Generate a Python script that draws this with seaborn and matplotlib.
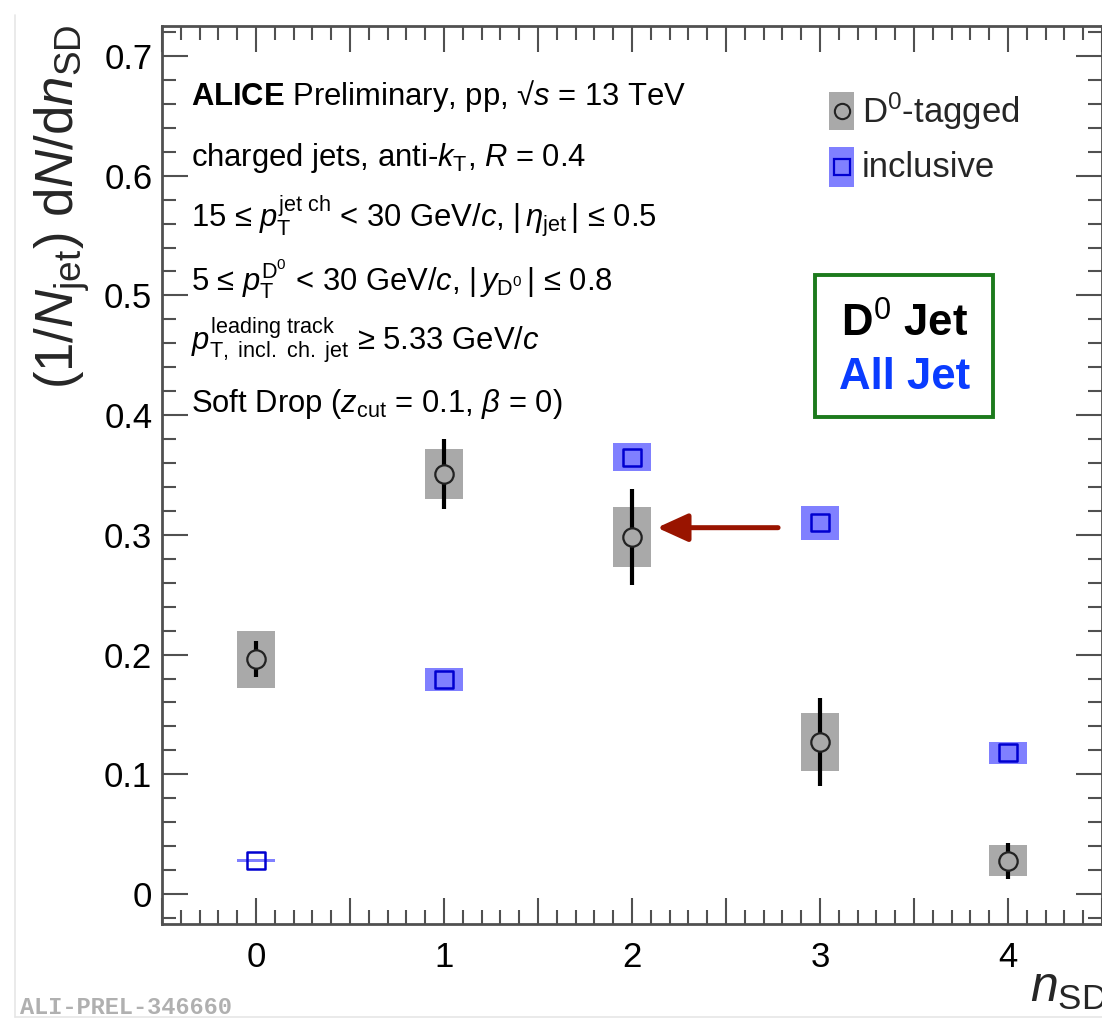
import numpy as np
import pandas as pd
import matplotlib
matplotlib.use("Agg")
import matplotlib.pyplot as plt
import seaborn as sns
from matplotlib.ticker import MultipleLocator, FuncFormatter
from matplotlib.patches import Rectangle
from matplotlib.lines import Line2D

# ---- data -------------------------------------------------------------
n_sd = [0, 1, 2, 3, 4]

d0_val = [0.196, 0.351, 0.298, 0.127, 0.028]
d0_stat = [0.015, 0.029, 0.040, 0.037, 0.015]
d0_syst = [0.024, 0.021, 0.025, 0.024, 0.013]

incl_val = [0.028, 0.179, 0.365, 0.310, 0.118]
incl_syst = [0.001, 0.0095, 0.012, 0.0145, 0.009]

x_ticklabels = ["0", "1", "2", "3", "4"]
highlight_idx = 2  # D0-tagged point pointed at by the arrow

# ---- style ------------------------------------------------------------
sns.set_theme(style="ticks")
plt.rcParams["font.family"] = ["Liberation Sans", "DejaVu Sans"]
plt.rcParams["mathtext.fontset"] = "custom"
plt.rcParams["mathtext.rm"] = "Liberation Sans"
plt.rcParams["mathtext.it"] = "Liberation Sans:italic"
plt.rcParams["mathtext.bf"] = "Liberation Sans:bold"
plt.rcParams["mathtext.sf"] = "Liberation Sans"

GRAY_BOX = "#a9a9a9"
BLUE_BOX = "#8080ff"
BLUE_EDGE = "#0000d0"
AXIS_COL = "#505050"

fig = plt.figure(figsize=(11.02, 10.19), dpi=100)
ax = fig.add_axes([162 / 1102, 95 / 1019, 940 / 1102, 898 / 1019])

df_d0 = pd.DataFrame({"n": n_sd, "val": d0_val, "stat": d0_stat, "syst": d0_syst})
df_incl = pd.DataFrame({"n": n_sd, "val": incl_val, "syst": incl_syst})

# systematic boxes
ax.bar(df_d0["n"], 2 * df_d0["syst"], bottom=df_d0["val"] - df_d0["syst"],
       width=0.2, color=GRAY_BOX, linewidth=0, zorder=2)
ax.bar(df_incl["n"], 2 * df_incl["syst"], bottom=df_incl["val"] - df_incl["syst"],
       width=0.2, color=BLUE_BOX, linewidth=0, zorder=2)

# statistical error bars
ax.errorbar(df_d0["n"], df_d0["val"], yerr=df_d0["stat"], fmt="none",
            ecolor="black", elinewidth=3.0, capsize=0, zorder=3)

# markers
sns.scatterplot(data=df_d0, x="n", y="val", marker="o", s=175,
                color=GRAY_BOX, edgecolor="#222222", linewidth=1.6,
                zorder=4, ax=ax, legend=False)
sns.scatterplot(data=df_incl, x="n", y="val", marker="s", s=150,
                facecolor="none", edgecolor=BLUE_EDGE, linewidth=1.8,
                zorder=4, ax=ax, legend=False)

# arrow pointing to the highlighted D0-tagged point
hx, hy = n_sd[highlight_idx], d0_val[highlight_idx]
ax.annotate("", xy=(hx + 0.133, hy + 0.008), xytext=(hx + 0.777, hy + 0.008),
            arrowprops=dict(arrowstyle="-|>,head_length=0.55,head_width=0.25",
                            mutation_scale=34, lw=3.6, color="#991400",
                            shrinkA=0, shrinkB=0), zorder=5)

# ---- axes ---------------------------------------------------------------
ax.set_xlim(-0.5, 4.5)
ax.set_ylim(-0.025, 0.725)
ax.set_xlabel("")
ax.set_ylabel("")

ax.xaxis.set_major_locator(MultipleLocator(0.5))
ax.xaxis.set_minor_locator(MultipleLocator(0.1))
ax.xaxis.set_major_formatter(FuncFormatter(
    lambda v, p: x_ticklabels[int(round(v))] if abs(v - round(v)) < 1e-6 and 0 <= round(v) < len(x_ticklabels) else ""))
ax.yaxis.set_major_locator(MultipleLocator(0.1))
ax.yaxis.set_minor_locator(MultipleLocator(0.02))
ax.yaxis.set_major_formatter(FuncFormatter(lambda v, p: f"{v:.1f}" if abs(v) > 1e-9 else "0"))

ax.tick_params(which="both", direction="in", top=True, right=True,
               color=AXIS_COL, width=1.5, labelsize=25, labelcolor="black")
ax.tick_params(which="major", length=19)
ax.tick_params(which="minor", length=10)
ax.tick_params(axis="x", which="major", pad=12)
ax.tick_params(axis="y", which="major", pad=7)
for sp in ax.spines.values():
    sp.set_visible(True)
    sp.set_color(AXIS_COL)
    sp.set_linewidth(2.0)

# ---- annotations ----------------------------------------------------------
info = [
    r"$\mathbf{ALICE}$ Preliminary, pp, √$s$ = 13 TeV",
    r"charged jets, anti-$k_{\mathrm{T}}$, $R$ = 0.4",
    r"15 ≤ $p_{\mathrm{T}}^{\mathrm{jet\ ch}}$ < 30 GeV/$c$, $|\,\eta_{\mathrm{jet}}\,|$ ≤ 0.5",
    r"5 ≤ $p_{\mathrm{T}}^{\mathrm{D}^{0}}$ < 30 GeV/$c$, $|\,y_{\mathrm{D}^{0}}\,|$ ≤ 0.8",
    r"$p_{\mathrm{T,\ incl.\ ch.\ jet}}^{\mathrm{leading\ track}}$ ≥ 5.33 GeV/$c$",
    r"Soft Drop ($z_{\mathrm{cut}}$ = 0.1, $\beta$ = 0)",
]
baselines = [0.912, 0.844, 0.776, 0.706, 0.639, 0.570]
for s, yb in zip(info, baselines):
    ax.text(0.031, yb, s, transform=ax.transAxes, fontsize=22.3,
            ha="left", va="baseline", color="black", zorder=6)

# legend
ax.add_patch(Rectangle((0.7096, 0.884), 0.0266, 0.0423, transform=ax.transAxes,
                       facecolor=GRAY_BOX, edgecolor="none", zorder=6))
ax.plot([0.7229], [0.9053], transform=ax.transAxes, marker="o", ms=11,
        mfc=GRAY_BOX, mec="#222222", mew=1.5, zorder=7, clip_on=False)
ax.add_patch(Rectangle((0.7096, 0.8207), 0.0266, 0.0445, transform=ax.transAxes,
                       facecolor=BLUE_BOX, edgecolor="none", zorder=6))
ax.plot([0.7229], [0.843], transform=ax.transAxes, marker="s", ms=11,
        mfc="none", mec=BLUE_EDGE, mew=1.6, zorder=7, clip_on=False)
ax.text(0.7447, 0.905, r"D$^{0}$-tagged", transform=ax.transAxes, fontsize=25,
        ha="left", va="center", zorder=7)
ax.text(0.7447, 0.842, "inclusive", transform=ax.transAxes, fontsize=25,
        ha="left", va="center", zorder=7)

# boxed labels
ax.add_patch(Rectangle((0.6947, 0.5646), 0.1894, 0.158, transform=ax.transAxes,
                       facecolor="white", edgecolor="#1c7a1c", linewidth=2.8, zorder=6))
ax.text(0.790, 0.668, r"D$^{0}$ Jet", transform=ax.transAxes, fontsize=31.5,
        fontweight="bold", ha="center", va="center", color="black", zorder=7)
ax.text(0.790, 0.609, "All Jet", transform=ax.transAxes, fontsize=31.5,
        fontweight="bold", ha="center", va="center", color="#0a3cff", zorder=7)

# axis titles
fig.text(62 / 1102, 1 - 25 / 1019, r"(1/$N_{\mathrm{jet}}$) d$N$/d$n_{\mathrm{SD}}$",
         rotation=90, ha="center", va="top", fontsize=38)
fig.text(1030 / 1102, 1 - 1002 / 1019, r"$n_{\mathrm{SD}}$", ha="left",
         va="baseline", fontsize=36)

fig.text(20 / 1102, 1 - 1014 / 1019, "ALI-PREL-346660", family="Liberation Mono",
         fontweight="bold", fontsize=17, color="#b0b0b0", ha="left", va="baseline")

# thin frame lines at left and bottom of the page
fig.add_artist(Line2D([15 / 1102, 15 / 1102], [0.002, 1 - 15 / 1019],
                      transform=fig.transFigure, color="#e6e6e6", lw=1.2))
fig.add_artist(Line2D([15 / 1102, 1.0], [0.002, 0.002],
                      transform=fig.transFigure, color="#e6e6e6", lw=1.2))

fig.savefig("out.png", dpi=100)
